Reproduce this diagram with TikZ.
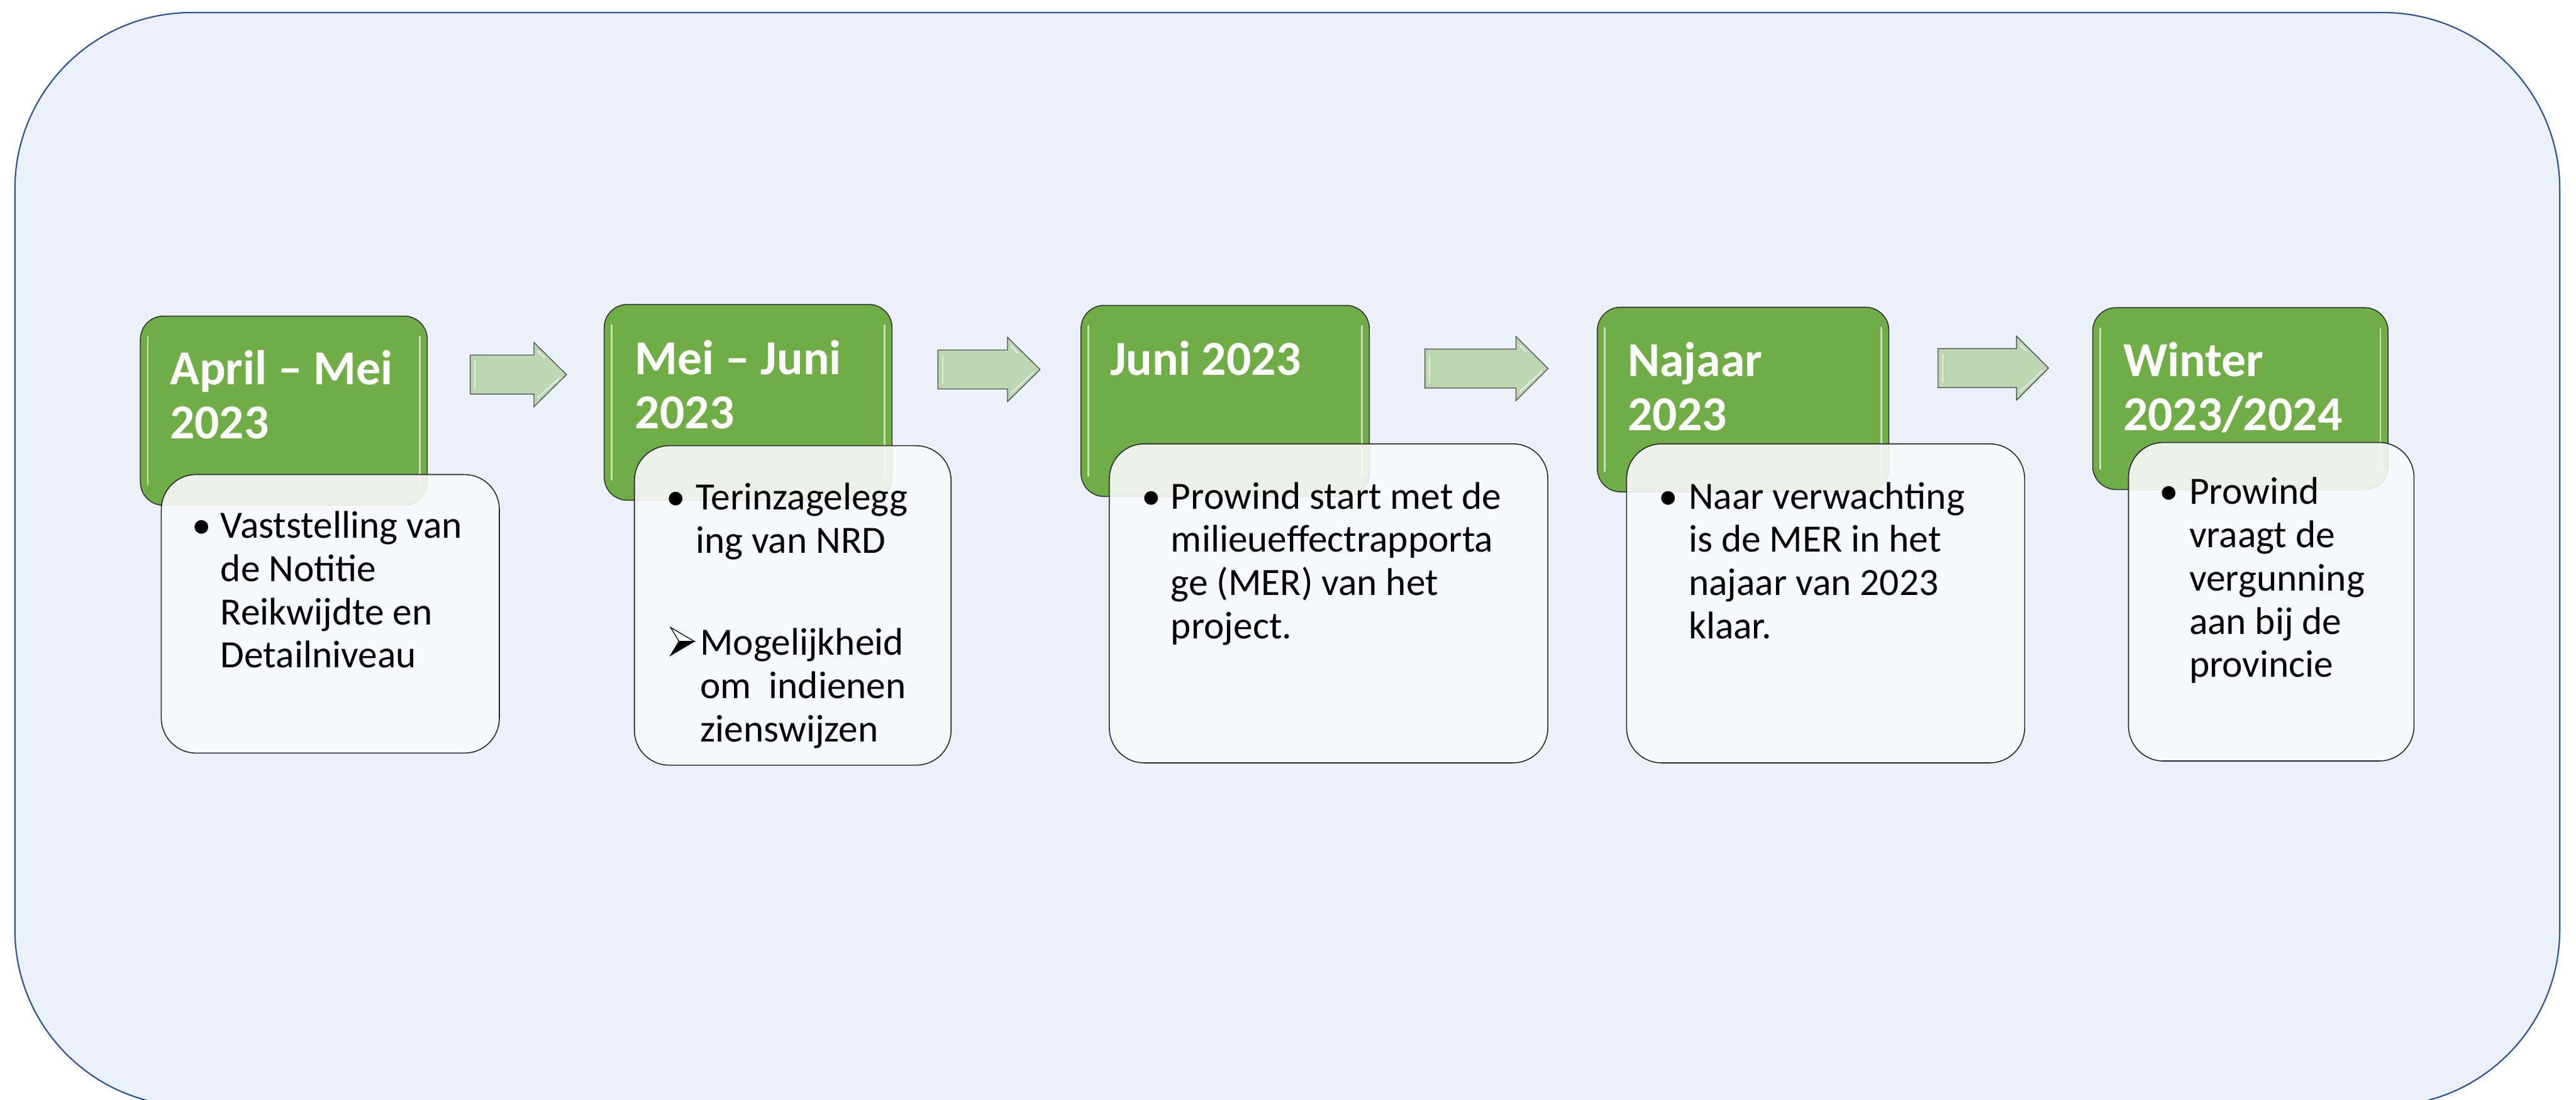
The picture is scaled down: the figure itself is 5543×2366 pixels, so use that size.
\documentclass[tikz,border=0pt]{standalone}
\usepackage{fontspec}
\setmainfont{Carlito}
\definecolor{frameblue}{RGB}{47,85,151}
\definecolor{framefill}{RGB}{235,240,249}
\definecolor{stepgreen}{RGB}{112,173,71}
\definecolor{glossgreen}{RGB}{200,226,182}
\definecolor{arrowfill}{RGB}{189,214,178}
\definecolor{cardfill}{RGB}{249,249,249}
\newcommand\stepttlfont{\fontsize{29.88pt}{33pt}\selectfont\bfseries}
\newcommand\stepbodyfont{\fontsize{23.62pt}{26.46pt}\selectfont}
\tikzset{
  outerframe/.style={draw=frameblue, fill=framefill, line width=0.85pt, rounded corners=3.8cm},
  greenbox/.style={draw=black!80, line width=0.6pt, fill=stepgreen, rounded corners=0.5cm, anchor=north west, inner sep=0},
  gloss/.style={draw=glossgreen, line width=0.9pt, line cap=round},
  card/.style={draw=black!85, line width=0.6pt, fill=cardfill, fill opacity=0.9, rounded corners=0.75cm, anchor=north west, inner sep=0},
  blockarrow/.style={draw=black!70, line width=0.5pt, fill=arrowfill},
  arrowgloss/.style={draw=white, draw opacity=0.6, line width=0.8pt, line cap=round},
  arrowbullet/.style={draw=black, line width=0.5pt, line join=miter},
  ttl/.style={anchor=base west, inner sep=0, text=white, font=\stepttlfont},
  bodytext/.style={anchor=base west, inner sep=0, text=black, font=\stepbodyfont},
  bul/.style={anchor=base, inner sep=0, text=black, font=\stepbodyfont}
}
\begin{document}
\begin{tikzpicture}[x=0.01cm,y=-0.01cm]
\useasboundingbox (0,0) rectangle (5543,2366);
\clip (0,0) rectangle (5543,2366);
\fill[white] (0,0) rectangle (5543,2366);
\draw[outerframe] (32,27) rectangle (5508,2380);

% block arrows
\foreach \xa/\xb/\xc/\yc in {1012/1149/1219/806, 2018/2168/2238/795, 3066/3262/3331/793, 4170/4339/4408/792}{
  \draw[blockarrow] (\xa,\yc-42) -- (\xb,\yc-42) -- (\xb,\yc-69) -- (\xc,\yc) -- (\xb,\yc+69) -- (\xb,\yc+42) -- (\xa,\yc+42) -- cycle;
  \draw[arrowgloss] (\xa+10,\yc-30) -- (\xa+10,\yc+30);
  \draw[arrowgloss] (\xb+8,\yc+50) -- (\xc-14,\yc+6);
  \draw[arrowgloss] (\xb+8,\yc-50) -- (\xb+22,\yc-36);
}

% green headers
\node[greenbox, minimum width=6.17cm, minimum height=4.07cm] (g1) at (301,679) {};
\node[greenbox, minimum width=6.19cm, minimum height=4.21cm] (g2) at (1299,654) {};
\node[greenbox, minimum width=6.20cm, minimum height=4.11cm] (g3) at (2325,656) {};
\node[greenbox, minimum width=6.27cm, minimum height=3.97cm] (g4) at (3436,660) {};
\node[greenbox, minimum width=6.35cm, minimum height=3.91cm] (g5) at (4502,661) {};

\foreach \g in {g1,g2,g3,g4,g5}{
  \draw[gloss] ([xshift=0.17cm,yshift=-0.45cm]\g.north west) -- ([xshift=0.17cm,yshift=0.45cm]\g.south west);
  \draw[gloss] ([xshift=-0.17cm,yshift=-0.45cm]\g.north east) -- ([xshift=-0.17cm,yshift=0.45cm]\g.south east);
}

\node[ttl] (t1) at (365,828) {\parbox[t]{8cm}{April – Mei\\2023}};
\node[ttl] (t2) at (1366,806) {\parbox[t]{8cm}{Mei – Juni\\2023}};
\node[ttl] (t3) at (2388,807) {\parbox[t]{8cm}{Juni 2023}};
\node[ttl] (t4) at (3502,810) {\parbox[t]{8cm}{Najaar\\2023}};
\node[ttl] (t5) at (4568,810) {\parbox[t]{8cm}{Winter\\2023/2024}};

% white cards
\node[card, minimum width=7.27cm, minimum height=5.99cm] (c1) at (346,1020) {};
\node[card, minimum width=6.81cm, minimum height=6.87cm] (c2) at (1364,958) {};
\node[card, minimum width=9.43cm, minimum height=6.86cm] (c3) at (2386,954) {};
\node[card, minimum width=8.56cm, minimum height=6.86cm] (c4) at (3499,954) {};
\node[card, minimum width=6.14cm, minimum height=6.85cm] (c5) at (4579,951) {};

% card texts
\node[bul] (b1) at (434,1158) {•};
\node[bodytext] (x1) at (474,1158) {\parbox[t]{8cm}{Vaststelling van\\de Notitie\\Reikwijdte en\\Detailniveau}};

\node[bul] (b2) at (1455,1097) {•};
\node[bodytext] (x2) at (1496,1097) {\parbox[t]{8cm}{Terinzagelegg\\ing van NRD}};
% arrowhead bullet
\draw[arrowbullet, fill=white] (1443,1350) -- (1494,1380) -- (1461,1380) -- cycle;
\draw[arrowbullet, fill=black] (1461,1380) -- (1494,1380) -- (1443,1410) -- cycle;
\node[bodytext] (x2b) at (1506,1410) {\parbox[t]{8cm}{Mogelijkheid\\om~~indienen\\zienswijzen}};

\node[bul] (b3) at (2477,1095) {•};
\node[bodytext] (x3) at (2519,1095) {\parbox[t]{10cm}{Prowind start met de\\milieueffectrapporta\\ge (MER) van het\\project.}};

\node[bul] (b4) at (3590,1095) {•};
\node[bodytext] (x4) at (3633,1095) {\parbox[t]{10cm}{Naar verwachting\\is de MER in het\\najaar van 2023\\klaar.}};

\node[bul] (b5) at (4667,1085) {•};
\node[bodytext] (x5) at (4710,1085) {\parbox[t]{8cm}{Prowind\\vraagt de\\vergunning\\aan bij de\\provincie}};
\end{tikzpicture}
\end{document}
